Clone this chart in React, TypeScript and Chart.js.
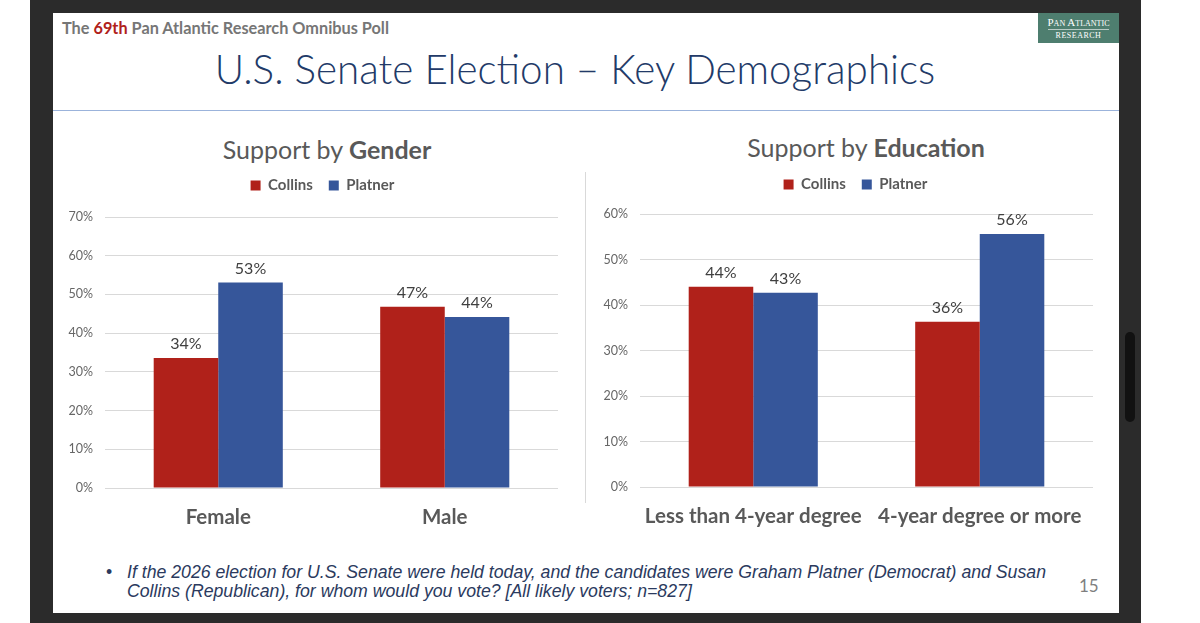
import React, { useEffect, useRef } from "react";
import { Chart, registerables } from "chart.js";

Chart.register(...registerables);

// ---------- data ----------
const seriesNames = ["Collins", "Platner"];
const seriesColors = ["#b0211a", "#36569a"];

const genderCategories = ["Female", "Male"];
const genderCollins = [33.6, 46.8];
const genderPlatner = [53.1, 44.2];
const genderYMax = 70;

const educationCategories = ["Less than 4-year degree", "4-year degree or more"];
const educationCollins = [44.0, 36.3];
const educationPlatner = [42.7, 55.6];
const educationYMax = 60;

const yStep = 10;

const FONT = "Lato, 'Open Sans', sans-serif";

const dataLabels = {
  id: "dataLabels",
  afterDatasetsDraw(chart: any) {
    const ctx = chart.ctx;
    ctx.save();
    ctx.font = `16px ${FONT}`;
    ctx.fillStyle = "#404040";
    ctx.textAlign = "center";
    ctx.textBaseline = "bottom";
    chart.data.datasets.forEach((ds: any, i: number) => {
      chart.getDatasetMeta(i).data.forEach((bar: any, j: number) => {
        ctx.fillText(Math.round(ds.data[j]) + "%", bar.x, bar.y - 6);
      });
    });
    ctx.restore();
  },
};

type BarProps = {
  left: number;
  top: number;
  width: number;
  height: number;
  categories: string[];
  collins: number[];
  platner: number[];
  yMax: number;
  padR: number;
  yWidth: number;
  legendHeight: number;
  legendShift: number;
  xHeight: number;
};

function BarChart(p: BarProps) {
  const ref = useRef<HTMLCanvasElement | null>(null);
  useEffect(() => {
    if (!ref.current) return;
    const legendFix = {
      id: "legendFix",
      beforeLayout(chart: any) {
        const lg = chart.legend;
        if (lg && !lg._fixed) {
          const orig = lg.fit.bind(lg);
          lg.fit = () => {
            orig();
            lg.height = p.legendHeight;
          };
          lg._fixed = true;
        }
      },
      afterLayout(chart: any) {
        const lg = chart.legend;
        if (lg) {
          lg.left += p.legendShift;
          lg.right += p.legendShift;
        }
      },
    };
    const chart = new Chart(ref.current, {
      type: "bar",
      data: {
        labels: p.categories,
        datasets: [
          {
            label: seriesNames[0],
            data: p.collins,
            backgroundColor: seriesColors[0],
            categoryPercentage: 0.57,
            barPercentage: 1,
          },
          {
            label: seriesNames[1],
            data: p.platner,
            backgroundColor: seriesColors[1],
            categoryPercentage: 0.57,
            barPercentage: 1,
          },
        ],
      },
      options: {
        animation: false,
        responsive: true,
        maintainAspectRatio: false,
        layout: { padding: { left: 0, right: p.padR, top: 0, bottom: 0 } },
        plugins: {
          legend: {
            display: true,
            position: "top",
            labels: {
              boxWidth: 10,
              boxHeight: 10,
              padding: 16,
              color: "#595959",
              font: { family: FONT, size: 15, weight: "bold" },
            },
          },
          tooltip: { enabled: false },
          title: { display: false },
        },
        scales: {
          x: {
            grid: { display: false, drawTicks: false },
            border: { display: false },
            ticks: {
              color: "#595959",
              padding: 17,
              font: { family: FONT, size: 20.5, weight: "bold" },
            },
            afterFit: (s: any) => {
              s.height = p.xHeight;
            },
          },
          y: {
            min: 0,
            max: p.yMax,
            grid: { color: "#d9d9d9", lineWidth: 1, drawTicks: false },
            border: { display: false },
            ticks: {
              stepSize: yStep,
              padding: 12,
              color: "#666666",
              font: { family: FONT, size: 12.5 },
              callback: (v: any) => v + "%",
            },
            afterFit: (s: any) => {
              s.width = p.yWidth;
            },
          },
        },
      } as any,
      plugins: [dataLabels, legendFix],
    });
    return () => chart.destroy();
  }, []);
  return (
    <div
      style={{
        position: "absolute",
        left: p.left,
        top: p.top,
        width: p.width,
        height: p.height,
      }}
    >
      <canvas ref={ref} />
    </div>
  );
}

export default function App() {
  return (
    <div
      style={{
        position: "fixed",
        left: 0,
        top: 0,
        width: 1200,
        height: 623,
        background: "#ffffff",
        overflow: "hidden",
        fontFamily: FONT,
      }}
    >
      {/* dark frame */}
      <div style={{ position: "absolute", left: 30, top: 0, width: 1111, height: 623, background: "#2b2b2b" }} />
      {/* scrollbar */}
      <div style={{ position: "absolute", left: 1125, top: 332, width: 10, height: 90, borderRadius: 5, background: "#111111" }} />
      {/* slide */}
      <div style={{ position: "absolute", left: 53, top: 13, width: 1066, height: 600, background: "#ffffff" }} />

      {/* header */}
      <div
        style={{
          position: "absolute",
          left: 62,
          top: 18,
          fontSize: 16.3,
          lineHeight: "20px",
          fontWeight: 700,
          color: "#767676",
          whiteSpace: "nowrap",
        }}
      >
        The <span style={{ color: "#b0211a" }}>69th</span> Pan Atlantic Research Omnibus Poll
      </div>

      {/* logo */}
      <div
        style={{
          position: "absolute",
          left: 1038,
          top: 13,
          width: 81,
          height: 30,
          background: "#4e7e6f",
          color: "#ffffff",
          fontFamily: "'Liberation Serif', 'DejaVu Serif', serif",
          textAlign: "center",
        }}
      >
        <div style={{ position: "absolute", left: 0, top: 4, width: 81, fontSize: 11, lineHeight: "11px", fontVariant: "small-caps" }}>
          Pan Atlantic
        </div>
        <div style={{ position: "absolute", left: 10, top: 16, width: 61, height: 1, background: "rgba(255,255,255,0.6)" }} />
        <div style={{ position: "absolute", left: 0, top: 18, width: 81, fontSize: 8, lineHeight: "9px", letterSpacing: 0.5 }}>
          RESEARCH
        </div>
      </div>

      {/* main title */}
      <div
        style={{
          position: "absolute",
          left: 75,
          top: 49,
          width: 1000,
          textAlign: "center",
          fontSize: 40.4,
          lineHeight: "40px",
          fontWeight: 300,
          color: "#223a68",
          whiteSpace: "nowrap",
        }}
      >
        U.S. Senate Election – Key Demographics
      </div>
      <div style={{ position: "absolute", left: 53, top: 110, width: 1066, height: 1, background: "#9bb3db" }} />

      {/* chart titles */}
      <div
        style={{
          position: "absolute",
          left: 127,
          top: 136,
          width: 400,
          textAlign: "center",
          fontSize: 25,
          lineHeight: "26px",
          color: "#595959",
          whiteSpace: "nowrap",
        }}
      >
        Support by <b>Gender</b>
      </div>
      <div
        style={{
          position: "absolute",
          left: 666,
          top: 134,
          width: 400,
          textAlign: "center",
          fontSize: 25,
          lineHeight: "26px",
          color: "#595959",
          whiteSpace: "nowrap",
        }}
      >
        Support by <b>Education</b>
      </div>

      {/* separator */}
      <div style={{ position: "absolute", left: 585, top: 172, width: 1, height: 331, background: "#d9d9d9" }} />

      <BarChart
        left={55}
        top={162}
        width={520}
        height={375}
        categories={genderCategories}
        collins={genderCollins}
        platner={genderPlatner}
        yMax={genderYMax}
        padR={17}
        yWidth={50}
        legendHeight={55}
        legendShift={16}
        xHeight={49}
      />
      <BarChart
        left={590}
        top={161}
        width={525}
        height={375}
        categories={educationCategories}
        collins={educationCollins}
        platner={educationPlatner}
        yMax={educationYMax}
        padR={22}
        yWidth={50}
        legendHeight={53}
        legendShift={14}
        xHeight={49}
      />

      {/* footer */}
      <div
        style={{
          position: "absolute",
          left: 106,
          top: 563,
          fontSize: 17.7,
          lineHeight: "19px",
          color: "#2b3a5e",
          fontFamily: "'Liberation Sans', Arial, sans-serif",
        }}
      >
        •
      </div>
      <div
        style={{
          position: "absolute",
          left: 127,
          top: 563,
          fontSize: 17.7,
          lineHeight: "19px",
          fontStyle: "italic",
          color: "#2b3a5e",
          fontFamily: "'Liberation Sans', Arial, sans-serif",
          whiteSpace: "nowrap",
        }}
      >
        If the 2026 election for U.S. Senate were held today, and the candidates were Graham Platner (Democrat) and Susan
        <br />
        Collins (Republican), for whom would you vote? [All likely voters; n=827]
      </div>
      <div
        style={{
          position: "absolute",
          left: 1079,
          top: 576,
          fontSize: 17,
          lineHeight: "20px",
          color: "#7f7f7f",
        }}
      >
        15
      </div>
    </div>
  );
}
